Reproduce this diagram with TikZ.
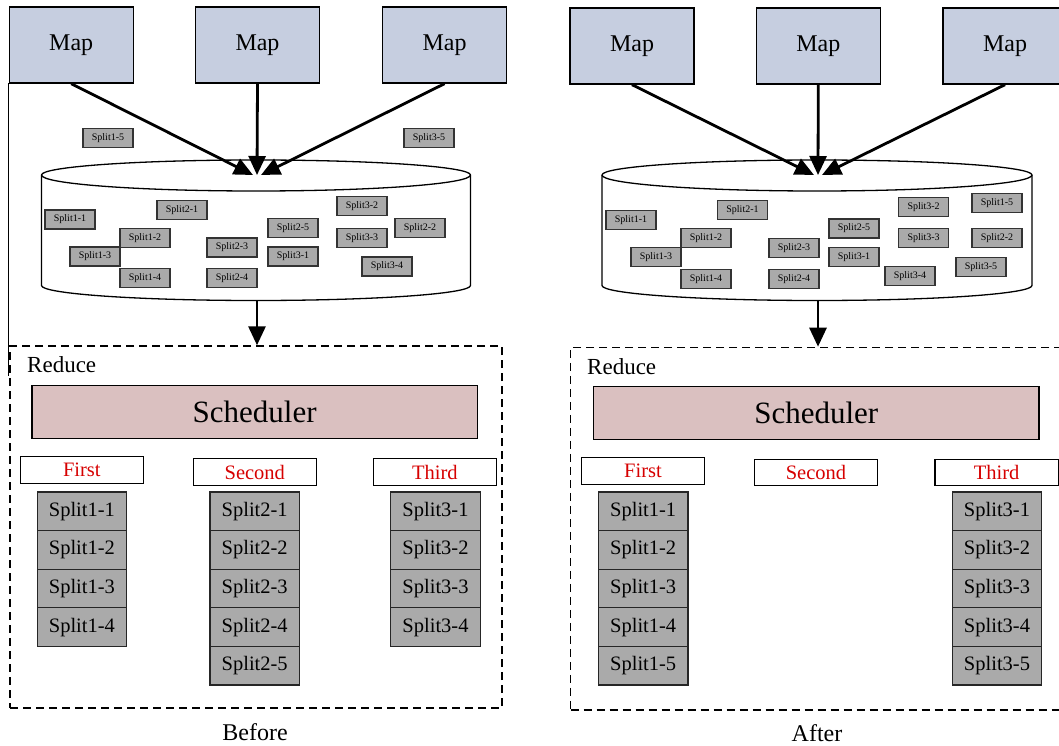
\documentclass[tikz,border=0pt]{standalone}
\usepackage{fontspec}
\setmainfont{Liberation Serif}
\usetikzlibrary{positioning}
\usetikzlibrary{arrows.meta}

\definecolor{mapblue}{RGB}{198,206,224}
\definecolor{schedpink}{RGB}{218,192,192}
\definecolor{splitgrey}{RGB}{170,170,170}
\definecolor{tagred}{RGB}{214,0,0}

\tikzset{
	mapbox/.style={draw,fill=mapblue,line width=1.4pt,minimum width=124pt,minimum height=76pt,inner sep=0pt,font=\fontsize{24}{24}\selectfont},
	chip/.style={draw=black!80,fill=splitgrey,line width=1.1pt,minimum width=50pt,minimum height=19pt,inner sep=0pt,font=\fontsize{10}{10}\selectfont},
	bigsplit/.style={draw=black!85,fill=splitgrey,line width=1.1pt,outer sep=0pt,minimum width=89.5pt,minimum height=38.6pt,inner sep=0pt,font=\fontsize{20.5}{20.5}\selectfont},
	tagbox/.style={draw,line width=1.1pt,minimum width=123.5pt,minimum height=26.5pt,inner sep=0pt,text=tagred,font=\fontsize{20.5}{20.5}\selectfont},
	schedbox/.style={draw,fill=schedpink,line width=1.3pt,minimum width=445.5pt,minimum height=53pt,inner sep=0pt,font=\fontsize{31}{31}\selectfont},
	reducebox/.style={draw,line width=1.4pt,dash pattern=on 8pt off 5pt,inner sep=0pt},
	feed/.style={-{Triangle[length=19pt,width=17pt]},line width=2.8pt},
	caption/.style={inner sep=0pt,font=\fontsize{24}{24}\selectfont},
}

\begin{document}
\begin{tikzpicture}[x=1pt,y=-1pt]
		\useasboundingbox (0,0) rectangle (1059,746);

		% Before
		\node [mapbox] (mapL1) at (71.2,45) {Map};
		\node [mapbox] (mapL2) at (257.5,45) {Map};
		\node [mapbox] (mapL3) at (444.5,45) {Map};
		\draw [line width=1pt] (8.5,83) -- (8.5,376);

		\draw [line width=1.3pt] (41.5,175) arc[start angle=180,end angle=360,x radius=214.5,y radius=15]
			-- (470.5,285.5) arc[start angle=0,end angle=180,x radius=214.5,y radius=15] -- cycle;
		\draw [line width=1.3pt] (41.5,175) arc[start angle=180,end angle=0,x radius=214.5,y radius=16];
		\coordinate (dbinL) at (257,175);
		\coordinate (dboutL) at (257,300.5);

		\foreach \name/\x/\y in {1-5/108/138,3-5/429/138,1-1/70/219.5,2-1/182/210,1-2/145/238,1-3/95/256.5,1-4/145/278,
			2-3/232/247.5,2-4/232/278,2-5/293/228,3-1/293/256.5,3-2/362/206,3-3/362/238,2-2/420/228,3-4/387/266.5}
			\node [chip] (chipL\name) at (\x,\y) {Split\name};

		\draw [feed] (mapL1.south) -- ([xshift=-4pt]dbinL);
		\draw [feed] (mapL2.south) -- (dbinL);
		\draw [feed] (mapL3.south) -- ([xshift=4pt]dbinL);

		\node [reducebox,minimum width=492pt,minimum height=362pt] (reduceL) at (256,527) {};
		\draw [feed] (dboutL) -- (dboutL |- reduceL.north);
		\node [anchor=west,inner sep=0pt,font=\fontsize{23}{23}\selectfont] (redL) at (27,365) {Reduce};
		\node [schedbox] (schedL) at (254.7,411.8) {Scheduler};

		\node [tagbox] (firstL) at (81.8,470) {First};
		\node [tagbox] (secondL) at (254.8,472) {Second};
		\node [tagbox] (thirdL) at (434.8,472) {Third};

		\node [bigsplit,anchor=north] (sL11) at (81.9,492) {Split1-1};
		\node [bigsplit,below=0pt of sL11] (sL12) {Split1-2};
		\node [bigsplit,below=0pt of sL12] (sL13) {Split1-3};
		\node [bigsplit,below=0pt of sL13] (sL14) {Split1-4};
		\node [bigsplit,anchor=north] (sL21) at (254.7,492) {Split2-1};
		\node [bigsplit,below=0pt of sL21] (sL22) {Split2-2};
		\node [bigsplit,below=0pt of sL22] (sL23) {Split2-3};
		\node [bigsplit,below=0pt of sL23] (sL24) {Split2-4};
		\node [bigsplit,below=0pt of sL24] (sL25) {Split2-5};
		\node [bigsplit,anchor=north] (sL31) at (435.5,492) {Split3-1};
		\node [bigsplit,below=0pt of sL31] (sL32) {Split3-2};
		\node [bigsplit,below=0pt of sL32] (sL33) {Split3-3};
		\node [bigsplit,below=0pt of sL33] (sL34) {Split3-4};

		\node [caption] (before) at (255,732) {Before};

		% After
		\node [mapbox] (mapR1) at (632,46) {Map};
		\node [mapbox] (mapR2) at (818.3,46) {Map};
		\node [mapbox] (mapR3) at (1005,46) {Map};

		\draw [line width=1.3pt] (602,175) arc[start angle=180,end angle=360,x radius=215,y radius=15]
			-- (1032,285.5) arc[start angle=0,end angle=180,x radius=215,y radius=15] -- cycle;
		\draw [line width=1.3pt] (602,175) arc[start angle=180,end angle=0,x radius=215,y radius=16];
		\coordinate (dbinR) at (818,175);
		\coordinate (dboutR) at (818,300.5);

		\foreach \name/\x/\y in {1-1/631/220,2-1/742.5/210,1-2/706/238,1-3/656/257,1-4/706/279,2-3/794/248,2-4/794/279,
			2-5/854/228.5,3-1/854/257,3-2/923.6/207,3-3/923.6/238,3-4/910/276,1-5/997/203,2-2/997/238,3-5/981/267}
			\node [chip] (chipR\name) at (\x,\y) {Split\name};

		\draw [feed] (mapR1.south) -- ([xshift=-4pt]dbinR);
		\draw [feed] (mapR2.south) -- (dbinR);
		\draw [feed] (mapR3.south) -- ([xshift=4pt]dbinR);

		\node [reducebox,minimum width=500pt,minimum height=362.6pt] (reduceR) at (820.5,528.7) {};
		\draw [feed] (dboutR) -- (dboutR |- reduceR.north);
		\node [anchor=west,inner sep=0pt,font=\fontsize{23}{23}\selectfont] (redR) at (587,367) {Reduce};
		\node [schedbox] (schedR) at (816.3,413) {Scheduler};

		\node [tagbox] (firstR) at (643,471) {First};
		\node [tagbox] (secondR) at (816,472.5) {Second};
		\node [tagbox] (thirdR) at (996.7,472.5) {Third};

		\node [bigsplit,anchor=north] (sR11) at (643.2,492) {Split1-1};
		\node [bigsplit,below=0pt of sR11] (sR12) {Split1-2};
		\node [bigsplit,below=0pt of sR12] (sR13) {Split1-3};
		\node [bigsplit,below=0pt of sR13] (sR14) {Split1-4};
		\node [bigsplit,below=0pt of sR14] (sR15) {Split1-5};
		\node [bigsplit,anchor=north] (sR31) at (997,492) {Split3-1};
		\node [bigsplit,below=0pt of sR31] (sR32) {Split3-2};
		\node [bigsplit,below=0pt of sR32] (sR33) {Split3-3};
		\node [bigsplit,below=0pt of sR33] (sR34) {Split3-4};
		\node [bigsplit,below=0pt of sR34] (sR35) {Split3-5};

		\node [caption] (after) at (817,733) {After};
	\end{tikzpicture}
\end{document}
